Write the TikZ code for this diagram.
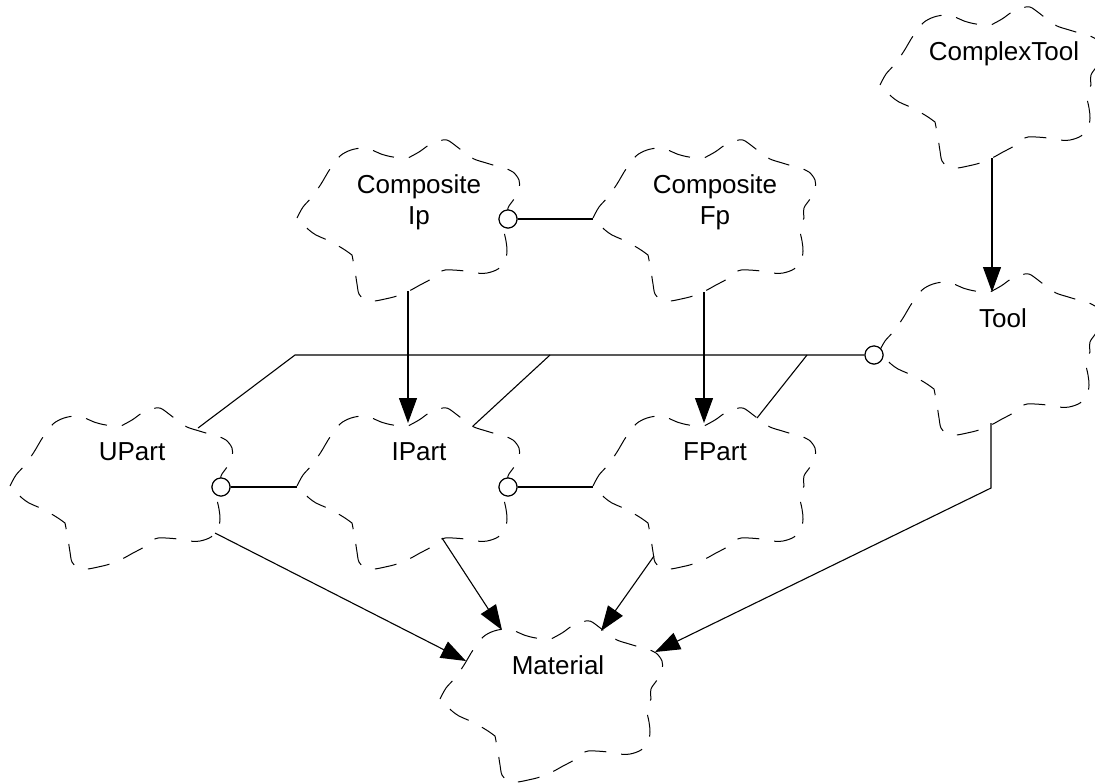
\documentclass[tikz,border=0pt]{standalone}
\usepackage{fontspec}
\setmainfont{Liberation Sans}
\usetikzlibrary{arrows.meta,calc}
\begin{document}
\begin{tikzpicture}[x=0.5pt,y=-0.5pt,
  cloudline/.style={line width=0.5pt, dash pattern=on 11pt off 7.5pt},
  conn/.style={line width=0.55pt},
  arr/.style={conn,-{Triangle[length=12.5pt,width=9pt]}},
  lbl/.style={anchor=north,inner sep=0pt,align=center,font=\fontsize{13pt}{15.5pt}\selectfont},
  aggc/.style={circle,draw,fill=white,line width=0.55pt,minimum size=9pt,inner sep=0pt},
  bcloud/.pic={
    \draw[cloudline]
      plot[smooth,tension=.55] coordinates {(0,77) (6,66) (15,56) (24,43) (33,28) (43,15) (54,9) (66,7) (75,9) (84,13) (96,16) (111,17)}
      -- plot[smooth,tension=.55] coordinates {(111,17) (122,11) (132,4) (142,0) (150,-1) (159,5) (168,12) (177,18) (186,21)}
      -- plot[smooth,tension=.55] coordinates {(186,21) (196,24) (207,27) (216,31) (222,39) (222,48) (217,58) (211,67) (211,77)}
      -- plot[smooth,tension=.55] coordinates {(211,77) (207,88) (209,100) (210,110) (208,120) (201,128) (190,132) (179,132) (168,130) (156,129) (148,129) (142,131)}
      -- plot[smooth,tension=.55] coordinates {(142,131) (134,138) (123,144) (112,150) (100,155) (88,158) (77,160) (68,159) (62,153) (60,143) (58,130) (56,119) (55,114)}
      -- plot[smooth,tension=.55] coordinates {(55,114) (48,109) (38,103) (28,98) (19,94) (12,89) (5,82) (0,77)}
      -- cycle;
  }
]
\useasboundingbox (0,0) rectangle (1095,783);

% cloud origins
\coordinate (U)  at (10,409);
\coordinate (I)  at (297,409);
\coordinate (F)  at (593,409);
\coordinate (CI) at (297,141);
\coordinate (CF) at (593,141);
\coordinate (CT) at (880,8);
\coordinate (T)  at (879,275);
\coordinate (M)  at (440,622);

% clouds
\pic at (U)  {bcloud};
\pic at (I)  {bcloud};
\pic at (F)  {bcloud};
\pic at (CI) {bcloud};
\pic at (CF) {bcloud};
\pic at (CT) {bcloud};
\pic at (T)  {bcloud};
\pic at (M)  {bcloud};

% labels
\node[lbl] (UPart)       at ($(U)+(122,33)$)  {UPart};
\node[lbl] (IPart)       at ($(I)+(122,33)$)  {IPart};
\node[lbl] (FPart)       at ($(F)+(122,33)$)  {FPart};
\node[lbl] (CompositeIp) at ($(CI)+(122,33)$) {Composite\\Ip};
\node[lbl] (CompositeFp) at ($(CF)+(122,33)$) {Composite\\Fp};
\node[lbl] (ComplexTool) at ($(CT)+(124,33)$) {ComplexTool};
\node[lbl] (Tool)        at ($(T)+(124,33)$)  {Tool};
\node[lbl] (Material)    at ($(M)+(118,33)$)  {Material};

% connection points on cloud borders
\coordinate (CI-b) at ($(CI)+(111,150)$);
\coordinate (I-t)  at ($(I)+(111,14)$);
\coordinate (CF-b) at ($(CF)+(111,151)$);
\coordinate (F-t)  at ($(F)+(111,14)$);
\coordinate (CT-b) at ($(CT)+(112,150)$);
\coordinate (T-t)  at ($(T)+(113,17)$);
\coordinate (U-br) at ($(U)+(205,124)$);
\coordinate (I-b)  at ($(I)+(145,129)$);
\coordinate (F-b)  at ($(F)+(61,147)$);
\coordinate (T-b)  at ($(T)+(112,148)$);
\coordinate (M-a)  at ($(M)+(26,39)$);
\coordinate (M-b)  at ($(M)+(62,8)$);
\coordinate (M-c)  at ($(M)+(161,9)$);
\coordinate (M-d)  at ($(M)+(215,30)$);
\coordinate (Tk)   at (991,488);
\coordinate (I-l)  at ($(I)+(0,78)$);
\coordinate (F-l)  at ($(F)+(0,78)$);
\coordinate (CF-l) at ($(CF)+(0,78)$);
\coordinate (U-tr) at ($(U)+(188,19)$);
\coordinate (I-tr) at ($(I)+(176,17)$);
\coordinate (F-tr) at ($(F)+(164,9)$);
\coordinate (J1)   at (295,355);
\coordinate (J2)   at (550,355);
\coordinate (J3)   at (807,355);

% aggregation circles
\node[aggc] (Uc)  at ($(U)+(211,78)$)  {};
\node[aggc] (Ic)  at ($(I)+(211,78)$)  {};
\node[aggc] (CIc) at ($(CI)+(211,78)$) {};
\node[aggc] (Tc)  at ($(T)+(-5,80)$)   {};

% aggregation lines
\draw[conn] (Uc) -- (I-l);
\draw[conn] (Ic) -- (F-l);
\draw[conn] (CIc) -- (CF-l);
\draw[conn] (Tc) -- (J1) -- (U-tr);
\draw[conn] (J2) -- (I-tr);
\draw[conn] (J3) -- (F-tr);

% arrows
\draw[arr] (CI-b) -- (I-t);
\draw[arr] (CF-b) -- (F-t);
\draw[arr] (CT-b) -- (CT-b |- T-t);
\draw[arr] (U-br) -- (M-a);
\draw[arr] (I-b) -- (M-b);
\draw[arr] (F-b) -- (M-c);
\draw[arr] (T-b) -- (Tk) -- (M-d);

% circles on top
\node[aggc] at (Uc) {};
\node[aggc] at (Ic) {};
\node[aggc] at (CIc) {};
\node[aggc] at (Tc) {};
\end{tikzpicture}
\end{document}
